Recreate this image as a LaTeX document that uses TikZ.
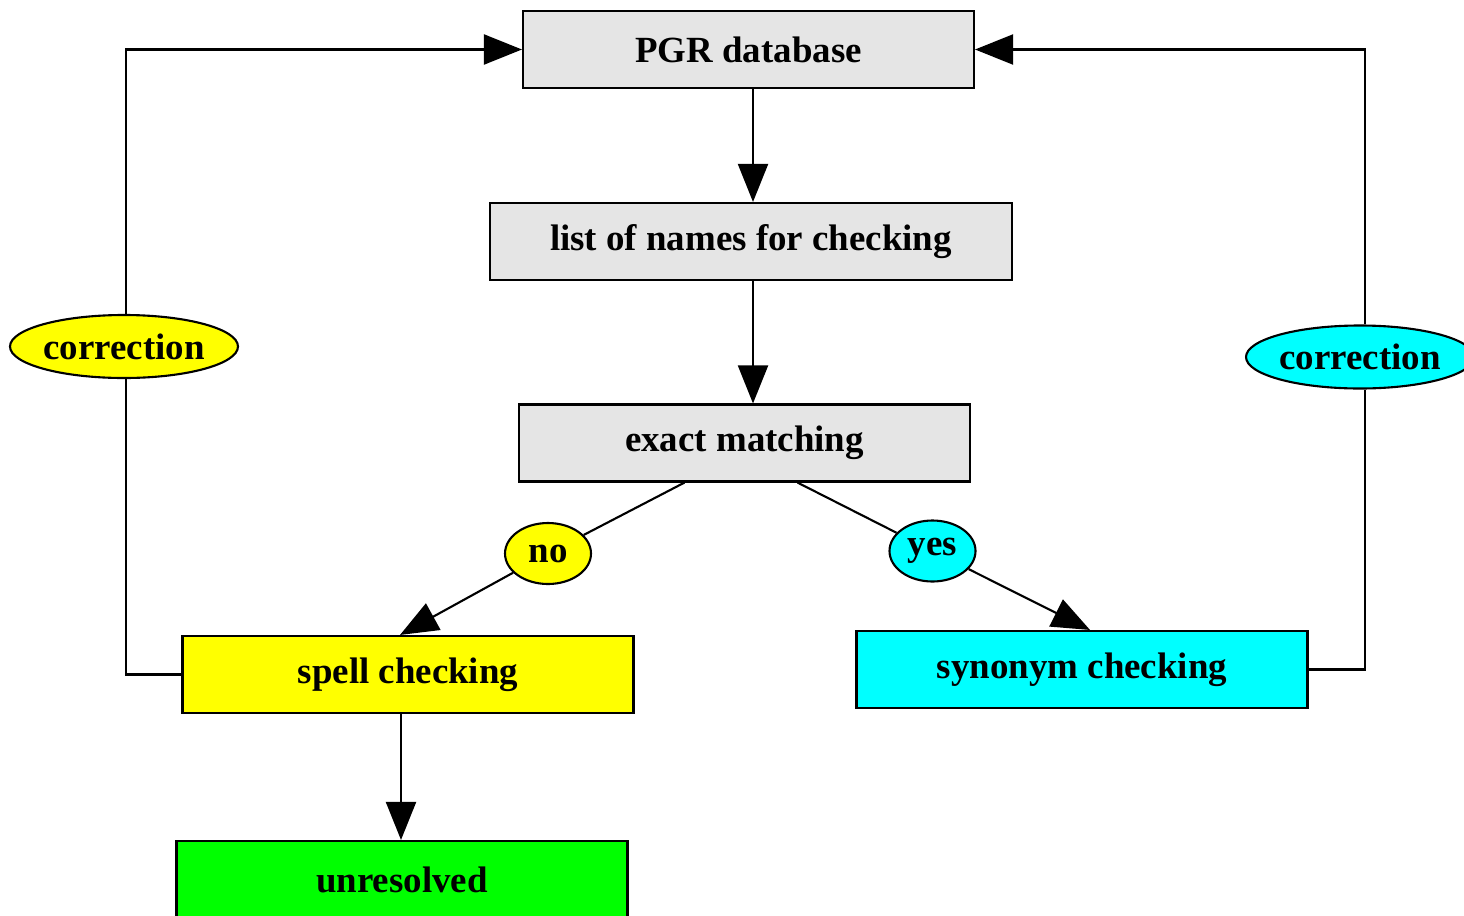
\documentclass[tikz,border=0pt]{standalone}
\usepackage{fontspec}
\setmainfont{Liberation Serif}
\usetikzlibrary{arrows.meta,shapes.geometric}
\definecolor{pgryellow}{RGB}{255,255,0}
\definecolor{pgrcyan}{RGB}{0,255,255}
\definecolor{pgrgreen}{RGB}{0,255,0}
\definecolor{pgrgray}{RGB}{229,229,229}
\begin{document}
\begin{tikzpicture}[
            every node/.style = {font=\fontsize{10.5}{12}\selectfont\bfseries, draw, line width=0.6pt},
            box/.style = {rectangle, minimum width=4.51cm, minimum height=0.77cm, fill=pgrgray},
            oval/.style = {ellipse, inner sep=0pt, minimum width=2.23cm, minimum height=0.63cm},
            answer/.style = {ellipse, inner sep=0pt, minimum width=0.86cm, minimum height=0.61cm},
            arr/.style = {-{Triangle[length=0.38cm, width=0.3cm]}, line width=0.6pt},
            link/.style = {line width=0.6pt}]
            \useasboundingbox (0,0) rectangle (14.64,-9.15);
            \node[box] (pgr) at (7.485,-0.495) {PGR database};
            \node[box, minimum width=5.22cm] (names) at (7.51,-2.415) {list of names for checking};
            \node[box] (exact) at (7.445,-4.43) {exact matching};
            \node[answer, fill=pgryellow] (no) at (5.48,-5.535) {no};
            \node[answer, fill=pgrcyan] (yes) at (9.325,-5.51) {yes};
            \node[box, fill=pgryellow] (spell) at (4.08,-6.745) {spell checking};
            \node[box, fill=pgrcyan] (synonym) at (10.82,-6.695) {synonym checking};
            \node[box, fill=pgrgreen] (unres) at (4.02,-8.795) {unresolved};
            \node[oval, fill=pgryellow] (corrL) at (1.24,-3.465) {correction};
            \node[oval, fill=pgrcyan, minimum width=2.15cm] (corrR) at (13.6,-3.57) {correction};
            \draw[arr] (pgr.south -| 7.53,0) -- (names.north -| 7.53,0);
            \draw[arr] (names.south -| 7.53,0) -- (exact.north -| 7.53,0);
            \draw[link] ([xshift=-0.6cm]exact.south) -- (no);
            \draw[arr] (no) -- ([xshift=-0.08cm]spell.north);
            \draw[link] ([xshift=0.53cm]exact.south) -- (yes);
            \draw[arr] (yes) -- ([xshift=0.08cm]synonym.north);
            \draw[arr] (spell.south -| 4.01,0) -- (unres.north -| 4.01,0);
            \draw[link] (spell.west) -| (corrL.south -| 1.26,0);
            \draw[arr] (corrL.north -| 1.26,0) |- (pgr.west);
            \draw[link] (synonym.east) -| (corrR.south -| 13.65,0);
            \draw[arr] (corrR.north -| 13.65,0) |- (pgr.east);
        \end{tikzpicture}
\end{document}
